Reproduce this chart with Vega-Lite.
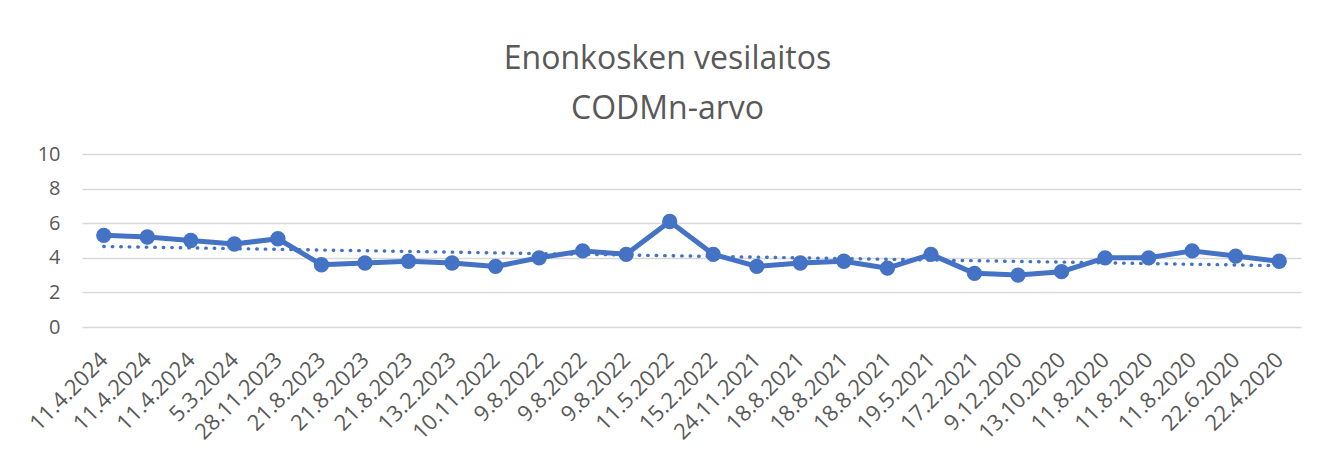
{
  "$schema": "https://vega.github.io/schema/vega-lite/v6.json",
  "width": 1219,
  "height": 173,
  "autosize": {"type": "none"},
  "padding": {"left": 82, "top": 154, "right": 33, "bottom": 124},
  "background": "white",
  "title": {
    "text": ["Enonkosken vesilaitos", "CODMn-arvo"],
    "font": "Open Sans",
    "fontSize": 32,
    "fontWeight": "normal",
    "color": "#595959",
    "lineHeight": 50,
    "anchor": "middle",
    "frame": "group",
    "dx": -24,
    "dy": 9,
    "baseline": "alphabetic",
    "offset": 2
  },
  "datasets": {
    "rows": [
      {"i": 0, "date": "11.4.2024", "value": 5.3},
      {"i": 1, "date": "11.4.2024\u200b", "value": 5.2},
      {"i": 2, "date": "11.4.2024\u200b\u200b", "value": 5.0},
      {"i": 3, "date": "5.3.2024", "value": 4.8},
      {"i": 4, "date": "28.11.2023", "value": 5.1},
      {"i": 5, "date": "21.8.2023", "value": 3.6},
      {"i": 6, "date": "21.8.2023\u200b", "value": 3.7},
      {"i": 7, "date": "21.8.2023\u200b\u200b", "value": 3.8},
      {"i": 8, "date": "13.2.2023", "value": 3.7},
      {"i": 9, "date": "10.11.2022", "value": 3.5},
      {"i": 10, "date": "9.8.2022", "value": 4.0},
      {"i": 11, "date": "9.8.2022\u200b", "value": 4.4},
      {"i": 12, "date": "9.8.2022\u200b\u200b", "value": 4.2},
      {"i": 13, "date": "11.5.2022", "value": 6.1},
      {"i": 14, "date": "15.2.2022", "value": 4.2},
      {"i": 15, "date": "24.11.2021", "value": 3.5},
      {"i": 16, "date": "18.8.2021", "value": 3.7},
      {"i": 17, "date": "18.8.2021\u200b", "value": 3.8},
      {"i": 18, "date": "18.8.2021\u200b\u200b", "value": 3.4},
      {"i": 19, "date": "19.5.2021", "value": 4.2},
      {"i": 20, "date": "17.2.2021", "value": 3.1},
      {"i": 21, "date": "9.12.2020", "value": 3.0},
      {"i": 22, "date": "13.10.2020", "value": 3.2},
      {"i": 23, "date": "11.8.2020", "value": 4.0},
      {"i": 24, "date": "11.8.2020\u200b", "value": 4.0},
      {"i": 25, "date": "11.8.2020\u200b\u200b", "value": 4.4},
      {"i": 26, "date": "22.6.2020", "value": 4.1},
      {"i": 27, "date": "22.4.2020", "value": 3.8}
    ]
  },
  "data": {"name": "rows"},
  "config": {
    "view": {"stroke": null}
  },
  "encoding": {
    "x": {
      "field": "date",
      "type": "nominal",
      "sort": null,
      "title": null,
      "axis": {
        "labelFont": "Open Sans",
        "labelFontSize": 22,
        "labelColor": "#595959",
        "domain": false,
        "ticks": false,
        "tickSize": 0,
        "labelAngle": -45,
        "labelAlign": "right",
        "labelBaseline": "middle",
        "labelPadding": 29,
        "grid": false,
        "labelOverlap": false
      }
    },
    "y": {
      "field": "value",
      "type": "quantitative",
      "title": null,
      "scale": {"domain": [0, 10], "nice": false},
      "axis": {
        "labelFont": "Open Sans",
        "labelFontSize": 20,
        "labelColor": "#595959",
        "domain": false,
        "ticks": false,
        "tickSize": 0,
        "values": [0, 2, 4, 6, 8, 10],
        "labelOverlap": false,
        "labelPadding": 22,
        "grid": true,
        "gridColor": "#D9D9D9",
        "gridWidth": 1.3
      }
    }
  },
  "layer": [
    {
      "mark": {"type": "line", "color": "#4472C4", "strokeWidth": 5, "strokeJoin": "round"}
    },
    {
      "mark": {"type": "point", "filled": true, "opacity": 1, "color": "#4472C4", "size": 235}
    },
    {
      "transform": [
        {"regression": "value", "on": "i"},
        {"lookup": "i", "from": {"data": {"name": "rows"}, "key": "i", "fields": ["date"]}}
      ],
      "mark": {"type": "line", "color": "#4472C4", "strokeWidth": 3.4, "strokeDash": [0.5, 8], "strokeCap": "round"}
    }
  ]
}
